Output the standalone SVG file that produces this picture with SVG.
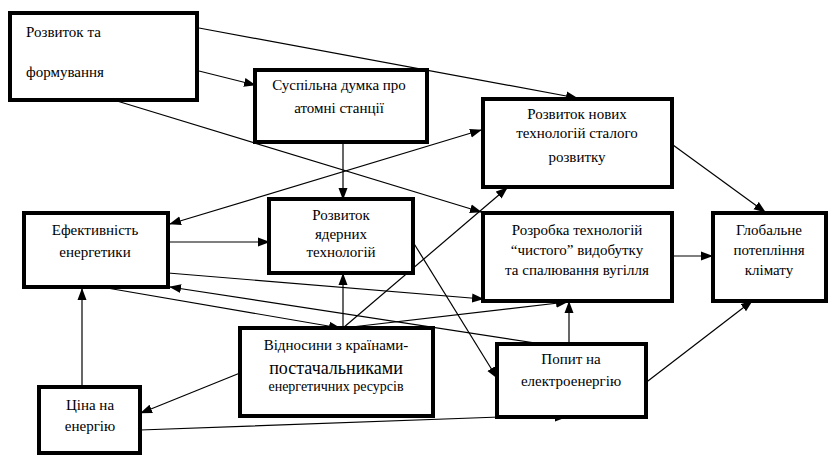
<svg xmlns="http://www.w3.org/2000/svg" width="835" height="456" viewBox="0 0 835 456">
<style>
.box{fill:#fff;stroke:#000;stroke-width:4}
.c line,.c polyline{stroke:#000;stroke-width:1.2;fill:none;marker-end:url(#ah)}
</style>
<defs>
<marker id="ah" markerUnits="userSpaceOnUse" markerWidth="12" markerHeight="10" refX="11" refY="4.5" orient="auto-start-reverse" viewBox="0 0 12 9">
<path d="M0,0 L12,4.5 L0,9 z" fill="#000"/>
</marker>
</defs>
<rect width="835" height="456" fill="#fff"/>
<g id="connectors" class="c">
<line x1="199" y1="28" x2="577" y2="98"/>
<line x1="199" y1="71" x2="255" y2="85"/>
<line x1="117" y1="101" x2="481" y2="212"/>
<line x1="170" y1="224" x2="481" y2="130" style="marker-start:url(#ah)"/>
<line x1="343" y1="142" x2="343" y2="199"/>
<line x1="168" y1="242" x2="269" y2="242"/>
<line x1="168" y1="273" x2="483" y2="299"/>
<line x1="542" y1="344" x2="170" y2="287"/>
<line x1="107" y1="288" x2="340" y2="328"/>
<line x1="343" y1="328" x2="343" y2="274"/>
<line x1="343" y1="328" x2="567" y2="302"/>
<line x1="343" y1="328" x2="507" y2="188"/>
<line x1="413" y1="242" x2="497" y2="378"/>
<line x1="569" y1="344" x2="569" y2="302"/>
<line x1="644" y1="384" x2="752" y2="301"/>
<line x1="673" y1="145" x2="765" y2="212"/>
<line x1="672" y1="256" x2="712" y2="256"/>
<line x1="240" y1="373" x2="141" y2="413"/>
<polyline points="140,430 500,417 566,417"/>
<line x1="82" y1="387" x2="82" y2="289"/>
</g>
<g font-family="Liberation Serif, serif" font-size="15" fill="#000" text-anchor="middle">
<g id="n1"><rect class="box" x="10" y="13" width="187" height="87"/>
<text text-anchor="start" x="26" y="37">Розвиток та</text>
<text text-anchor="start" x="26" y="77">формування</text></g>
<g id="n2"><rect class="box" x="255" y="70" width="172" height="72"/>
<text x="339" y="90">Суспільна думка про</text>
<text x="339" y="113">атомні станції</text></g>
<g id="n3"><rect class="box" x="483" y="99" width="189" height="88"/>
<text x="577" y="119">Розвиток нових</text>
<text x="577" y="138">технологій сталого</text>
<text x="577" y="162">розвитку</text></g>
<g id="n4"><rect class="box" x="24" y="213" width="144" height="74"/>
<text x="95" y="235">Ефективність</text>
<text x="95" y="257">енергетики</text></g>
<g id="n5"><rect class="box" x="269" y="199" width="144" height="74"/>
<text x="341" y="220">Розвиток</text>
<text x="341" y="239">ядерних</text>
<text x="341" y="257">технологій</text></g>
<g id="n6"><rect class="box" x="483" y="213" width="189" height="88"/>
<text x="577" y="235">Розробка технологій</text>
<text x="577" y="255">“чистого” видобутку</text>
<text x="577" y="275">та спалювання вугілля</text></g>
<g id="n7"><rect class="box" x="713" y="213" width="113" height="88"/>
<text x="769" y="235">Глобальне</text>
<text x="769" y="255">потепління</text>
<text x="769" y="275">клімату</text></g>
<g id="n8"><rect class="box" x="240" y="328" width="193" height="88"/>
<text x="336" y="350">Відносини з країнами-</text>
<text x="336" y="374" font-size="18">постачальниками</text>
<text x="336" y="391" font-size="14">енергетичних ресурсів</text></g>
<g id="n9"><rect class="box" x="497" y="344" width="149" height="73"/>
<text x="571" y="364">Попит на</text>
<text x="571" y="386">електроенергію</text></g>
<g id="n10"><rect class="box" x="39" y="387" width="101" height="66"/>
<text x="90" y="410">Ціна на</text>
<text x="90" y="431">енергію</text></g>
</g>
</svg>
